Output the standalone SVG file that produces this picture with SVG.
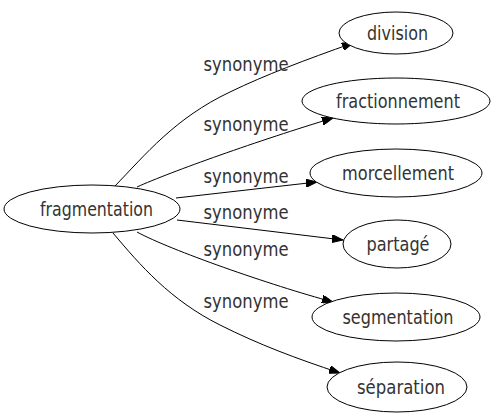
<svg xmlns="http://www.w3.org/2000/svg" width="495" height="419" viewBox="0 0 495 419">
<style>
.n ellipse{fill:#fff;stroke:#000;stroke-width:1}
text{font-family:"DejaVu Sans",sans-serif;font-size:19px;fill:#333;text-anchor:middle}
.e path{fill:none;stroke:#000;stroke-width:1}
</style>
<defs>
<marker id="ah" markerUnits="userSpaceOnUse" markerWidth="12" markerHeight="8" refX="11" refY="4" orient="auto">
<path d="M0,0 L11,4 L0,8 Z" fill="#000" stroke="#000" stroke-width="1"/>
</marker>
</defs>
<rect width="495" height="419" fill="#fff"/>
<g id="edges" class="e">
<path d="M115,186 C145,155 175,118 230,92 C265,75 305,60 353,43" marker-end="url(#ah)"/>
<path d="M137,187 C170,172 260,140 333,118" marker-end="url(#ah)"/>
<path d="M176,198 L317,182" marker-end="url(#ah)"/>
<path d="M177,220 L343,240" marker-end="url(#ah)"/>
<path d="M137,232 C170,250 270,285 333,302" marker-end="url(#ah)"/>
<path d="M113,233 C140,265 170,300 220,325 C260,345 295,358 340,373" marker-end="url(#ah)"/>
<text x="246" y="71" textLength="85" lengthAdjust="spacingAndGlyphs">synonyme</text>
<text x="246" y="131" textLength="85" lengthAdjust="spacingAndGlyphs">synonyme</text>
<text x="246" y="183" textLength="85" lengthAdjust="spacingAndGlyphs">synonyme</text>
<text x="246" y="219" textLength="85" lengthAdjust="spacingAndGlyphs">synonyme</text>
<text x="246" y="256" textLength="85" lengthAdjust="spacingAndGlyphs">synonyme</text>
<text x="246" y="308" textLength="85" lengthAdjust="spacingAndGlyphs">synonyme</text>
</g>
<g id="fragmentation" class="n"><ellipse cx="92" cy="209" rx="88" ry="24"/><text x="96.5" y="216" textLength="113" lengthAdjust="spacingAndGlyphs">fragmentation</text></g>
<g id="division" class="n"><ellipse cx="396" cy="33" rx="57" ry="21"/><text x="397.5" y="40" textLength="61" lengthAdjust="spacingAndGlyphs">division</text></g>
<g id="fractionnement" class="n"><ellipse cx="396" cy="101" rx="94" ry="23"/><text x="398" y="108" textLength="124" lengthAdjust="spacingAndGlyphs">fractionnement</text></g>
<g id="morcellement" class="n"><ellipse cx="396" cy="173" rx="86" ry="24"/><text x="398" y="180" textLength="112" lengthAdjust="spacingAndGlyphs">morcellement</text></g>
<g id="partage" class="n"><ellipse cx="397" cy="244" rx="54" ry="24"/><text x="398" y="251" textLength="63" lengthAdjust="spacingAndGlyphs">partagé</text></g>
<g id="segmentation" class="n"><ellipse cx="396" cy="317" rx="84" ry="24"/><text x="398" y="324" textLength="111" lengthAdjust="spacingAndGlyphs">segmentation</text></g>
<g id="separation" class="n"><ellipse cx="397" cy="387" rx="70" ry="25"/><text x="401" y="394" textLength="88" lengthAdjust="spacingAndGlyphs">séparation</text></g>
</svg>
